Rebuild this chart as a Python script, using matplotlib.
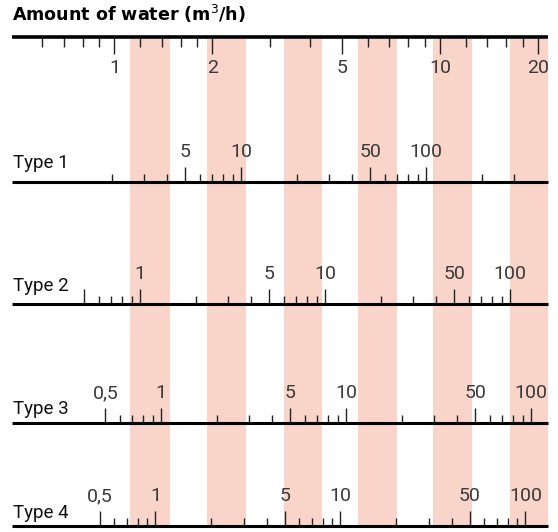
import numpy as np
import matplotlib

matplotlib.use("Agg")
import matplotlib.pyplot as plt

# top scale: amount of water (m3/h)
water_major = [1, 2, 5, 10, 20]
water_minor = [0.6, 0.7, 0.8, 0.9, 1.2, 1.4, 1.6, 1.8, 3, 4, 6, 7, 8, 9, 12, 14, 16, 18]

# shaded bands, in m3/h
band_lo = [1.12, 1.93, 3.32, 5.6, 9.55, 16.4]
band_hi = [1.48, 2.54, 4.35, 7.38, 12.55, 21.5]

# the four type scales: value 10 sits at this amount of water
type_names = ["Type 1", "Type 2", "Type 3", "Type 4"]
type_q10 = [2.45, 4.44, 5.15, 4.95]
type_exp = 1.76
type_major = [
    [5, 10, 50, 100],
    [0.5, 1, 5, 10, 50, 100],
    [0.5, 1, 5, 10, 50, 100],
    [0.5, 1, 5, 10, 50, 100],
]
type_labels = [
    ["5", "10", "50", "100"],
    ["", "1", "5", "10", "50", "100"],
    ["0,5", "1", "5", "10", "50", "100"],
    ["0,5", "1", "5", "10", "50", "100"],
]
type_minor = [
    [2, 3, 4, 6, 7, 8, 9, 20, 30, 40, 60, 70, 80, 90, 200, 300],
    [0.6, 0.7, 0.8, 0.9, 2, 3, 4, 6, 7, 8, 9, 20, 30, 40, 60, 70, 80, 90],
    [0.6, 0.7, 0.8, 0.9, 2, 3, 4, 6, 7, 8, 9, 20, 30, 40, 60, 70, 80, 90],
    [0.6, 0.7, 0.8, 0.9, 2, 3, 4, 6, 7, 8, 9, 20, 30, 40, 60, 70, 80, 90],
]

# layout (y in pixels from the top)
top_y = 37
type_y = [182, 304, 423, 526]
type_text_y = [163, 286, 409, 513]
q_left, q_right = 0.485, 21.5

fig = plt.figure(figsize=(5.58, 5.32), dpi=100)
ax = fig.add_axes([0, 0, 1, 1])
ax.set_xscale("log")
ax.set_xlim(0.4455, 23.05)
ax.set_ylim(532, 0)
ax.axis("off")

band_color = "#f9d5c9"
for lo, hi in zip(band_lo, band_hi):
    ax.fill_betweenx([top_y + 2, type_y[-1]], lo, hi, color=band_color, lw=0, zorder=0)

tick_color = "#222222"
label_color = "#3a3a3a"
label_font = dict(family="Roboto", fontsize=14, color=label_color)

# top scale
ax.hlines(top_y, q_left, q_right, color="black", lw=2.6, zorder=3)
ax.vlines(water_minor, top_y, top_y + 10, color=tick_color, lw=1.0, zorder=2)
ax.vlines(water_major, top_y, top_y + 17, color=tick_color, lw=1.0, zorder=2)
for v in water_major:
    ax.text(v, top_y + 31, f"{v:g}", ha="center", va="center", **label_font)
ax.text(q_left, 14, "Amount of water (m$^3$/h)", ha="left", va="center",
        fontsize=12.6, fontweight="bold", color="black")


def to_q(p, q10):
    return q10 * (np.asarray(p, dtype=float) / 10) ** (1 / type_exp)


for name, q10, y, ty, majors, labs, minors in zip(
    type_names, type_q10, type_y, type_text_y, type_major, type_labels, type_minor
):
    ax.hlines(y, q_left, q_right, color="black", lw=2.2, zorder=3)
    ax.vlines(to_q(minors, q10), y - 8, y, color=tick_color, lw=1.0, zorder=2)
    ax.vlines(to_q(majors, q10), y - 15, y, color=tick_color, lw=1.0, zorder=2)
    for qx, lab in zip(to_q(majors, q10), labs):
        ax.text(qx, y - 30, lab, ha="center", va="center", **label_font)
    ax.text(0.49, ty, name, ha="left", va="center", family="Roboto",
            fontsize=13.5, color="#111111")

fig.savefig("out.png", dpi=100)
